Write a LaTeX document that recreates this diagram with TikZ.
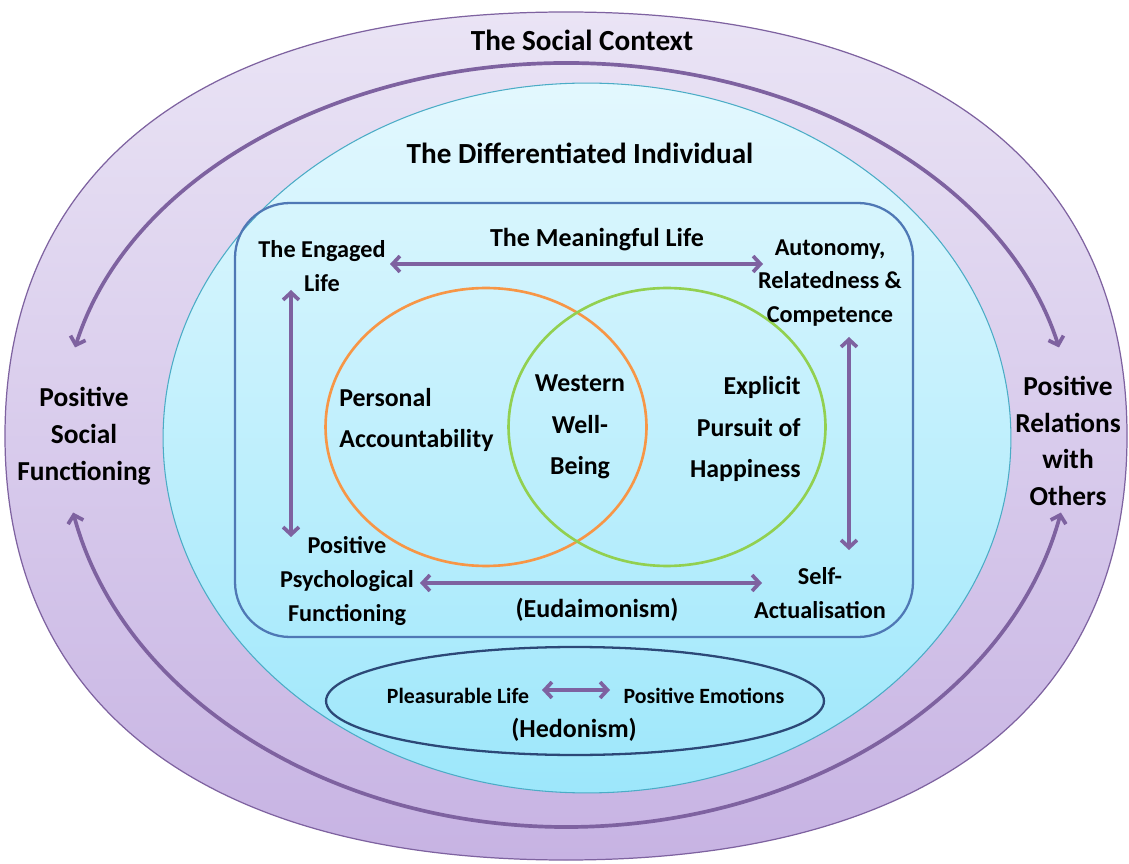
\documentclass[tikz,border=0pt]{standalone}
\usepackage{fontspec}
\setmainfont{Carlito}
\usetikzlibrary{arrows.meta}
\definecolor{outerTop}{HTML}{EAE4F5}
\definecolor{outerBot}{HTML}{C7B3E3}
\definecolor{purp}{HTML}{7E62A0}
\definecolor{blueTop}{HTML}{E3F8FE}
\definecolor{blueBot}{HTML}{9DE7FB}
\definecolor{blueEdge}{HTML}{4BACC6}
\definecolor{rectEdge}{HTML}{4F78B5}
\definecolor{orng}{HTML}{F79646}
\definecolor{grn}{HTML}{92D050}
\definecolor{navy}{HTML}{2C4877}
\tikzset{
  lbl/.style={inner sep=0pt, align=center, text=black},
  fTitle/.style={font=\fontsize{16.6}{20}\selectfont\bfseries},
  fOuter/.style={font=\fontsize{15.6}{21}\selectfont\bfseries},
  fCirc/.style={font=\fontsize{14.7}{23.5}\selectfont\bfseries},
  fCorner/.style={font=\fontsize{13.8}{19.3}\selectfont\bfseries},
  fMid/.style={font=\fontsize{14.8}{18}\selectfont\bfseries},
  fSmall/.style={font=\fontsize{12.4}{15}\selectfont\bfseries},
  dblarrow/.style={draw=purp, line width=2.1pt,
    {Straight Barb[length=4.2pt,width=9pt]}-{Straight Barb[length=4.2pt,width=9pt]}},
}
\begin{document}
\begin{tikzpicture}[x=0.02cm,y=0.02cm]
\useasboundingbox (0,0) rectangle (1129,-864);

% outer social context shape (superellipse-like)
\shadedraw[top color=outerTop, bottom color=outerBot, draw=purp, line width=0.7pt]
  (5,-436) .. controls (5,-165) and (206,-12) .. (566,-12)
  .. controls (926,-12) and (1127,-165) .. (1127,-436)
  .. controls (1127,-707) and (926,-860) .. (566,-860)
  .. controls (206,-860) and (5,-707) .. (5,-436) -- cycle;

% outer arcs
\coordinate (c) at (567,-430);
\path (c) ++(167:10.1cm and 7.34cm) coordinate (ta);
\path (c) ++(192:10.1cm and 7.94cm) coordinate (ba);
\draw[dblarrow] (ta) arc[start angle=167, end angle=13, x radius=10.1cm, y radius=7.34cm];
\draw[dblarrow] (ba) arc[start angle=192, end angle=348, x radius=10.1cm, y radius=7.94cm];

% differentiated individual
\shadedraw[top color=blueTop, bottom color=blueBot, draw=blueEdge, line width=0.6pt]
  (587,-438) ellipse [x radius=8.48cm, y radius=7.1cm];

% eudaimonism box
\draw[rectEdge, line width=1.3pt, rounded corners=1.1cm] (235,-203) rectangle (913,-637);

% venn circles
\draw[orng, line width=1.5pt] (486,-427) ellipse [x radius=3.21cm, y radius=2.78cm];
\draw[grn, line width=1.5pt] (667,-427) ellipse [x radius=3.17cm, y radius=2.78cm];

% hedonism ellipse
\draw[navy, line width=1.3pt] (575,-701) ellipse [x radius=4.98cm, y radius=1.08cm];

% labels
\node[lbl, fTitle] (ctx) at (582,-40) {The Social Context};
\node[lbl, fTitle] (indiv) at (580,-153) {The Differentiated Individual};
\node[lbl, fMid] (meaning) at (597,-240) {The Meaningful Life};
\node[lbl, fCorner] (engaged) at (322,-266) {The Engaged\\Life};
\node[lbl, fCorner] (auton) at (830,-283) {Autonomy,\\Relatedness \&\\Competence};
\node[lbl, fCorner] (psych) at (347,-581) {Positive\\Psychological\\Functioning};
\node[lbl, fCorner] (selfact) at (820,-593) {Self-\\Actualisation};
\node[lbl, fMid] (eudai) at (597,-610) {(Eudaimonism)};
\node[lbl, fCirc, anchor=west, align=left] (personal) at (339,-420) {Personal\\Accountability};
\node[lbl, fCirc] (western) at (580,-427) {Western\\Well-\\Being};
\node[lbl, fCirc, anchor=east, align=right] (explicit) at (801,-429) {Explicit\\Pursuit of\\Happiness};
\node[lbl, fOuter] (psf) at (84,-436) {Positive\\Social\\Functioning};
\node[lbl, fOuter] (pro) at (1068,-441) {Positive\\Relations\\with\\Others};
\node[lbl, fSmall] (pleas) at (458,-696) {Pleasurable Life};
\node[lbl, fSmall] (emot) at (704,-696) {Positive Emotions};
\node[lbl, fMid] (hedon) at (574,-730) {(Hedonism)};

% inner arrows
\coordinate (m1) at (390,-264); \coordinate (m2) at (763,-264);
\coordinate (l1) at (291,-290); \coordinate (l2) at (291,-537);
\coordinate (r1) at (849,-337); \coordinate (r2) at (849,-550);
\coordinate (e1) at (420,-583); \coordinate (e2) at (762,-583);
\coordinate (h1) at (542,-690); \coordinate (h2) at (610,-690);
\draw[dblarrow] (m1) -- (m2);
\draw[dblarrow] (l1) -- (l2);
\draw[dblarrow] (r1) -- (r2);
\draw[dblarrow] (e1) -- (e2);
\draw[dblarrow] (h1) -- (h2);
\end{tikzpicture}
\end{document}
